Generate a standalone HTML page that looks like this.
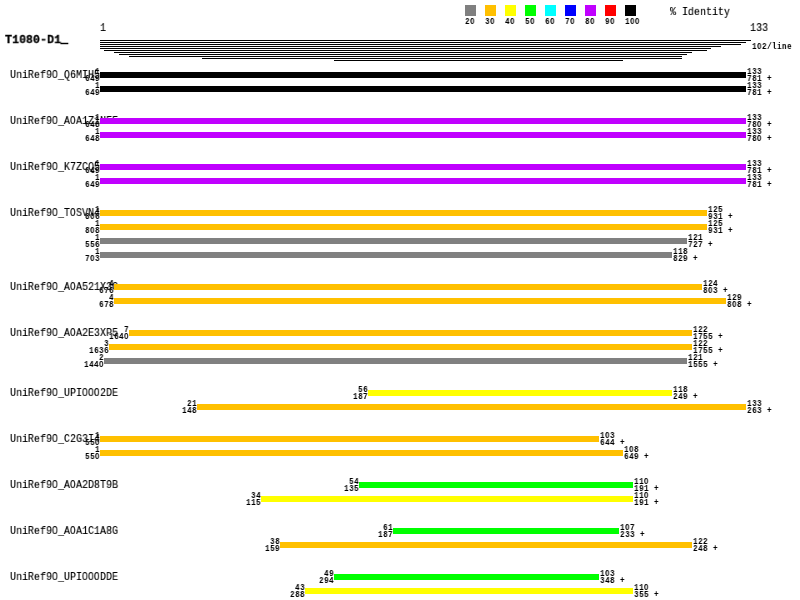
<!DOCTYPE html>
<html><head><meta charset="utf-8"><title>Alignment</title>
<style>
html,body{margin:0;padding:0;background:#fff;}
body{width:800px;height:600px;position:relative;overflow:hidden;font-family:"Liberation Mono",monospace;color:#000;}
.r{position:absolute;}
.t{position:absolute;white-space:pre;transform-origin:0 0;line-height:1;will-change:transform;}
.s{-webkit-text-stroke:0.15px #000;font-size:12.0px;transform:scale(0.8332,0.89);}
.n{font-size:9.0px;font-weight:bold;letter-spacing:0.482px;transform:scaleX(0.8500);}
.s i,.n i{font-family:"Liberation Sans",sans-serif;font-style:normal;line-height:0;}
.s i{letter-spacing:0.0441em;}
.n i{letter-spacing:calc(0.0441em + 0.482px);}
.m{-webkit-text-stroke:0.3px #000;font-size:12.0px;font-weight:bold;transform:scale(0.9721,0.89);}
</style></head><body>
<div class="r" style="left:465px;top:5px;width:11px;height:11px;background:#808080"></div>
<span class="t n" style="left:464.7px;top:18px">2<i>0</i></span>
<div class="r" style="left:485px;top:5px;width:11px;height:11px;background:#ffc000"></div>
<span class="t n" style="left:484.7px;top:18px">3<i>0</i></span>
<div class="r" style="left:505px;top:5px;width:11px;height:11px;background:#ffff00"></div>
<span class="t n" style="left:504.7px;top:18px">4<i>0</i></span>
<div class="r" style="left:525px;top:5px;width:11px;height:11px;background:#00ff00"></div>
<span class="t n" style="left:524.7px;top:18px">5<i>0</i></span>
<div class="r" style="left:545px;top:5px;width:11px;height:11px;background:#00ffff"></div>
<span class="t n" style="left:544.7px;top:18px">6<i>0</i></span>
<div class="r" style="left:565px;top:5px;width:11px;height:11px;background:#0000ff"></div>
<span class="t n" style="left:564.7px;top:18px">7<i>0</i></span>
<div class="r" style="left:585px;top:5px;width:11px;height:11px;background:#c000ff"></div>
<span class="t n" style="left:584.7px;top:18px">8<i>0</i></span>
<div class="r" style="left:605px;top:5px;width:11px;height:11px;background:#ff0000"></div>
<span class="t n" style="left:604.7px;top:18px">9<i>0</i></span>
<div class="r" style="left:625px;top:5px;width:11px;height:11px;background:#000000"></div>
<span class="t n" style="left:624.7px;top:18px">1<i>0</i><i>0</i></span>
<span class="t s" style="left:669.5px;top:7px">% Identity</span>
<span class="t s" style="left:99.5px;top:23px">1</span>
<span class="t s" style="left:749.5px;top:23px">133</span>
<span class="t m" style="left:5px;top:35px">T1080-D1<span style="position:relative;top:-1.1px;-webkit-text-stroke:0.9px #000">_</span></span>
<span class="t n" style="left:751.7px;top:43px">1<i>0</i>2/line</span>
<div class="r" style="left:100px;top:40px;width:651px;height:1px;background:#000"></div>
<div class="r" style="left:100px;top:42px;width:646px;height:1px;background:#000"></div>
<div class="r" style="left:100px;top:44px;width:641px;height:1px;background:#000"></div>
<div class="r" style="left:100px;top:46px;width:621px;height:1px;background:#000"></div>
<div class="r" style="left:100px;top:48px;width:611px;height:1px;background:#000"></div>
<div class="r" style="left:104px;top:50px;width:603px;height:1px;background:#000"></div>
<div class="r" style="left:114px;top:52px;width:578px;height:1px;background:#000"></div>
<div class="r" style="left:119px;top:54px;width:568px;height:1px;background:#000"></div>
<div class="r" style="left:129px;top:56px;width:553px;height:1px;background:#000"></div>
<div class="r" style="left:202px;top:58px;width:480px;height:1px;background:#000"></div>
<div class="r" style="left:334px;top:60px;width:289px;height:1px;background:#000"></div>
<span class="t s" style="left:9.5px;top:70px">UniRef9<i>0</i>_Q6MIH5</span>
<div class="r" style="left:100px;top:72px;width:646px;height:6px;background:#000000"></div>
<span class="t n" style="left:94.7px;top:68px">1</span>
<span class="t n" style="left:84.7px;top:75px">649</span>
<span class="t n" style="left:746.7px;top:68px">133</span>
<span class="t n" style="left:746.7px;top:75px">781 +</span>
<div class="r" style="left:100px;top:86px;width:646px;height:6px;background:#000000"></div>
<span class="t n" style="left:94.7px;top:82px">1</span>
<span class="t n" style="left:84.7px;top:89px">649</span>
<span class="t n" style="left:746.7px;top:82px">133</span>
<span class="t n" style="left:746.7px;top:89px">781 +</span>
<span class="t s" style="left:9.5px;top:116px">UniRef9<i>0</i>_A<i>0</i>A1Z1NFF</span>
<div class="r" style="left:100px;top:118px;width:646px;height:6px;background:#c000ff"></div>
<span class="t n" style="left:94.7px;top:114px">1</span>
<span class="t n" style="left:84.7px;top:121px">648</span>
<span class="t n" style="left:746.7px;top:114px">133</span>
<span class="t n" style="left:746.7px;top:121px">78<i>0</i> +</span>
<div class="r" style="left:100px;top:132px;width:646px;height:6px;background:#c000ff"></div>
<span class="t n" style="left:94.7px;top:128px">1</span>
<span class="t n" style="left:84.7px;top:135px">648</span>
<span class="t n" style="left:746.7px;top:128px">133</span>
<span class="t n" style="left:746.7px;top:135px">78<i>0</i> +</span>
<span class="t s" style="left:9.5px;top:162px">UniRef9<i>0</i>_K7ZCQ5</span>
<div class="r" style="left:100px;top:164px;width:646px;height:6px;background:#c000ff"></div>
<span class="t n" style="left:94.7px;top:160px">1</span>
<span class="t n" style="left:84.7px;top:167px">649</span>
<span class="t n" style="left:746.7px;top:160px">133</span>
<span class="t n" style="left:746.7px;top:167px">781 +</span>
<div class="r" style="left:100px;top:178px;width:646px;height:6px;background:#c000ff"></div>
<span class="t n" style="left:94.7px;top:174px">1</span>
<span class="t n" style="left:84.7px;top:181px">649</span>
<span class="t n" style="left:746.7px;top:174px">133</span>
<span class="t n" style="left:746.7px;top:181px">781 +</span>
<span class="t s" style="left:9.5px;top:208px">UniRef9<i>0</i>_T<i>0</i>SVN4</span>
<div class="r" style="left:100px;top:210px;width:607px;height:6px;background:#ffc000"></div>
<span class="t n" style="left:94.7px;top:206px">1</span>
<span class="t n" style="left:84.7px;top:213px">8<i>0</i>6</span>
<span class="t n" style="left:707.7px;top:206px">125</span>
<span class="t n" style="left:707.7px;top:213px">931 +</span>
<div class="r" style="left:100px;top:224px;width:607px;height:6px;background:#ffc000"></div>
<span class="t n" style="left:94.7px;top:220px">1</span>
<span class="t n" style="left:84.7px;top:227px">8<i>0</i>8</span>
<span class="t n" style="left:707.7px;top:220px">125</span>
<span class="t n" style="left:707.7px;top:227px">931 +</span>
<div class="r" style="left:100px;top:238px;width:587px;height:6px;background:#808080"></div>
<span class="t n" style="left:94.7px;top:234px">1</span>
<span class="t n" style="left:84.7px;top:241px">556</span>
<span class="t n" style="left:687.7px;top:234px">121</span>
<span class="t n" style="left:687.7px;top:241px">727 +</span>
<div class="r" style="left:100px;top:252px;width:572px;height:6px;background:#808080"></div>
<span class="t n" style="left:94.7px;top:248px">1</span>
<span class="t n" style="left:84.7px;top:255px">7<i>0</i>3</span>
<span class="t n" style="left:672.7px;top:248px">118</span>
<span class="t n" style="left:672.7px;top:255px">829 +</span>
<span class="t s" style="left:9.5px;top:282px">UniRef9<i>0</i>_A<i>0</i>A521X3C</span>
<div class="r" style="left:114px;top:284px;width:588px;height:6px;background:#ffc000"></div>
<span class="t n" style="left:108.7px;top:280px">4</span>
<span class="t n" style="left:98.7px;top:287px">676</span>
<span class="t n" style="left:702.7px;top:280px">124</span>
<span class="t n" style="left:702.7px;top:287px">8<i>0</i>3 +</span>
<div class="r" style="left:114px;top:298px;width:612px;height:6px;background:#ffc000"></div>
<span class="t n" style="left:108.7px;top:294px">4</span>
<span class="t n" style="left:98.7px;top:301px">678</span>
<span class="t n" style="left:726.7px;top:294px">129</span>
<span class="t n" style="left:726.7px;top:301px">8<i>0</i>8 +</span>
<span class="t s" style="left:9.5px;top:328px">UniRef9<i>0</i>_A<i>0</i>A2E3XP5</span>
<div class="r" style="left:129px;top:330px;width:563px;height:6px;background:#ffc000"></div>
<span class="t n" style="left:123.7px;top:326px">7</span>
<span class="t n" style="left:108.7px;top:333px">164<i>0</i></span>
<span class="t n" style="left:692.7px;top:326px">122</span>
<span class="t n" style="left:692.7px;top:333px">1755 +</span>
<div class="r" style="left:109px;top:344px;width:583px;height:6px;background:#ffc000"></div>
<span class="t n" style="left:103.7px;top:340px">3</span>
<span class="t n" style="left:88.7px;top:347px">1636</span>
<span class="t n" style="left:692.7px;top:340px">122</span>
<span class="t n" style="left:692.7px;top:347px">1755 +</span>
<div class="r" style="left:104px;top:358px;width:583px;height:6px;background:#808080"></div>
<span class="t n" style="left:98.7px;top:354px">2</span>
<span class="t n" style="left:83.7px;top:361px">144<i>0</i></span>
<span class="t n" style="left:687.7px;top:354px">121</span>
<span class="t n" style="left:687.7px;top:361px">1555 +</span>
<span class="t s" style="left:9.5px;top:388px">UniRef9<i>0</i>_UPI<i>0</i><i>0</i><i>0</i>2DE</span>
<div class="r" style="left:368px;top:390px;width:304px;height:6px;background:#ffff00"></div>
<span class="t n" style="left:357.7px;top:386px">56</span>
<span class="t n" style="left:352.7px;top:393px">187</span>
<span class="t n" style="left:672.7px;top:386px">118</span>
<span class="t n" style="left:672.7px;top:393px">249 +</span>
<div class="r" style="left:197px;top:404px;width:549px;height:6px;background:#ffc000"></div>
<span class="t n" style="left:186.7px;top:400px">21</span>
<span class="t n" style="left:181.7px;top:407px">148</span>
<span class="t n" style="left:746.7px;top:400px">133</span>
<span class="t n" style="left:746.7px;top:407px">263 +</span>
<span class="t s" style="left:9.5px;top:434px">UniRef9<i>0</i>_C2G3I4</span>
<div class="r" style="left:100px;top:436px;width:499px;height:6px;background:#ffc000"></div>
<span class="t n" style="left:94.7px;top:432px">1</span>
<span class="t n" style="left:84.7px;top:439px">55<i>0</i></span>
<span class="t n" style="left:599.7px;top:432px">1<i>0</i>3</span>
<span class="t n" style="left:599.7px;top:439px">644 +</span>
<div class="r" style="left:100px;top:450px;width:523px;height:6px;background:#ffc000"></div>
<span class="t n" style="left:94.7px;top:446px">1</span>
<span class="t n" style="left:84.7px;top:453px">55<i>0</i></span>
<span class="t n" style="left:623.7px;top:446px">1<i>0</i>8</span>
<span class="t n" style="left:623.7px;top:453px">649 +</span>
<span class="t s" style="left:9.5px;top:480px">UniRef9<i>0</i>_A<i>0</i>A2D8T9B</span>
<div class="r" style="left:359px;top:482px;width:274px;height:6px;background:#00ff00"></div>
<span class="t n" style="left:348.7px;top:478px">54</span>
<span class="t n" style="left:343.7px;top:485px">135</span>
<span class="t n" style="left:633.7px;top:478px">11<i>0</i></span>
<span class="t n" style="left:633.7px;top:485px">191 +</span>
<div class="r" style="left:261px;top:496px;width:372px;height:6px;background:#ffff00"></div>
<span class="t n" style="left:250.7px;top:492px">34</span>
<span class="t n" style="left:245.7px;top:499px">115</span>
<span class="t n" style="left:633.7px;top:492px">11<i>0</i></span>
<span class="t n" style="left:633.7px;top:499px">191 +</span>
<span class="t s" style="left:9.5px;top:526px">UniRef9<i>0</i>_A<i>0</i>A1C1A8G</span>
<div class="r" style="left:393px;top:528px;width:226px;height:6px;background:#00ff00"></div>
<span class="t n" style="left:382.7px;top:524px">61</span>
<span class="t n" style="left:377.7px;top:531px">187</span>
<span class="t n" style="left:619.7px;top:524px">1<i>0</i>7</span>
<span class="t n" style="left:619.7px;top:531px">233 +</span>
<div class="r" style="left:280px;top:542px;width:412px;height:6px;background:#ffc000"></div>
<span class="t n" style="left:269.7px;top:538px">38</span>
<span class="t n" style="left:264.7px;top:545px">159</span>
<span class="t n" style="left:692.7px;top:538px">122</span>
<span class="t n" style="left:692.7px;top:545px">248 +</span>
<span class="t s" style="left:9.5px;top:572px">UniRef9<i>0</i>_UPI<i>0</i><i>0</i><i>0</i>DDE</span>
<div class="r" style="left:334px;top:574px;width:265px;height:6px;background:#00ff00"></div>
<span class="t n" style="left:323.7px;top:570px">49</span>
<span class="t n" style="left:318.7px;top:577px">294</span>
<span class="t n" style="left:599.7px;top:570px">1<i>0</i>3</span>
<span class="t n" style="left:599.7px;top:577px">348 +</span>
<div class="r" style="left:305px;top:588px;width:328px;height:6px;background:#ffff00"></div>
<span class="t n" style="left:294.7px;top:584px">43</span>
<span class="t n" style="left:289.7px;top:591px">288</span>
<span class="t n" style="left:633.7px;top:584px">11<i>0</i></span>
<span class="t n" style="left:633.7px;top:591px">355 +</span>
</body></html>
